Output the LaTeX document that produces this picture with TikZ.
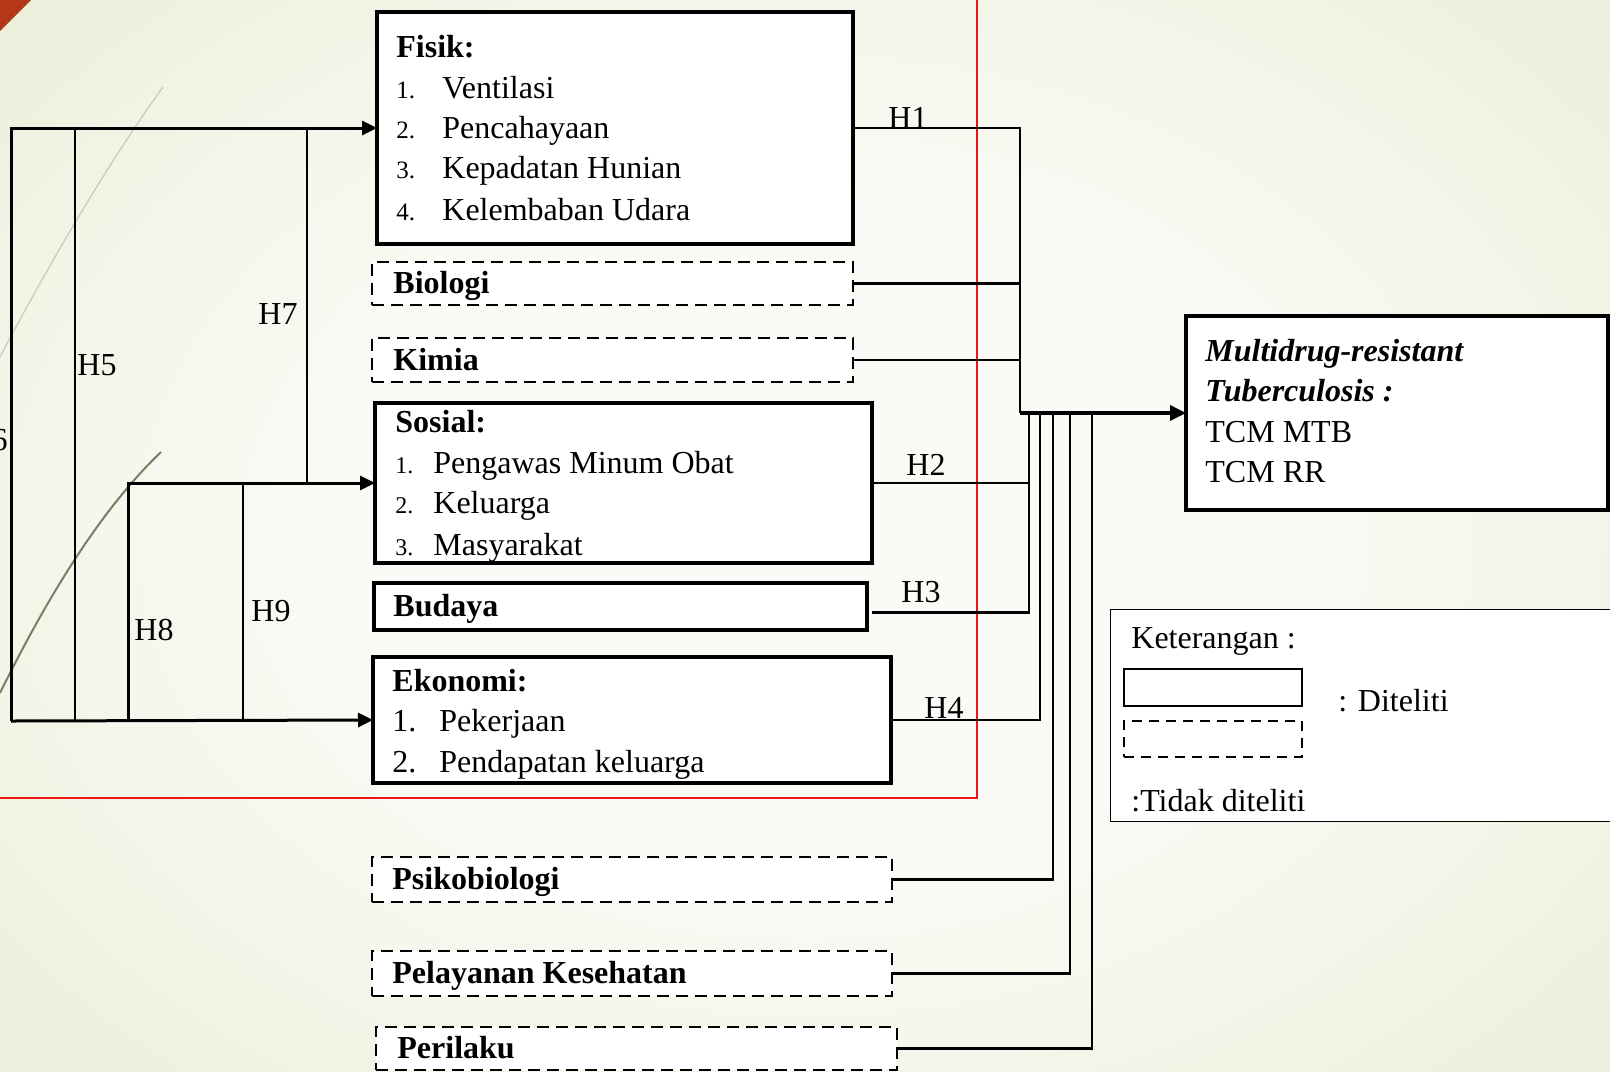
\documentclass[tikz,border=0pt]{standalone}
\usepackage{fontspec}
\setmainfont{Liberation Serif}
\usetikzlibrary{arrows.meta}
\definecolor{bgout}{RGB}{216,228,188}
\definecolor{bgin}{RGB}{250,251,246}
\definecolor{redline}{RGB}{240,20,20}
\definecolor{cornerred}{RGB}{180,55,25}
\definecolor{decolight}{RGB}{200,200,188}
\definecolor{decodark}{RGB}{130,122,100}
\pgfdeclareradialshading{bgshade}{\pgfpoint{0bp}{0bp}}{color(0bp)=(bgin); color(12bp)=(bgin); color(30bp)=(bgin!50!bgout); color(55bp)=(bgout)}
\begin{document}
\begin{tikzpicture}[x=0.5pt,y=-0.5pt,
  solidbox/.style={draw, line width=1.75pt, fill=white, inner sep=0pt, outer sep=0pt, anchor=north west},
  dashbox/.style={draw, line width=1.2pt, dash pattern=on 6pt off 3.5pt, fill=white, inner sep=0pt, outer sep=0pt, anchor=north west},
  conn/.style={line width=1.35pt},
  arr/.style={line width=1.5pt, -{Triangle[length=7.5pt,width=7pt]}},
  mainarr/.style={line width=1.75pt, -{Triangle[length=8pt,width=7.5pt]}},
  head/.style={font=\fontsize{16}{19}\selectfont\bfseries, inner sep=0pt, anchor=base west},
  itm/.style={font=\fontsize{16}{19}\selectfont, inner sep=0pt, anchor=base west},
  numf/.style={font=\fontsize{12.5}{15}\selectfont, inner sep=0pt, anchor=base west},
  nums/.style={font=\fontsize{12}{14}\selectfont, inner sep=0pt, anchor=base west},
  outt/.style={font=\fontsize{16}{19}\selectfont, inner sep=0pt, anchor=base west},
  legt/.style={font=\fontsize{16}{19}\selectfont, inner sep=0pt, anchor=base west},
  hl/.style={font=\fontsize{16}{19}\selectfont, inner sep=0pt}
]
\useasboundingbox (0,0) rectangle (1610,1071);
\clip (0,0) rectangle (1610,1071);
% background
\shade[shading=bgshade] (-150,-150) rectangle (1760,1221);
\fill[cornerred] (0,0) -- (31,0) -- (0,31) -- cycle;
\draw[decolight, line width=0.6pt] (0,357) .. controls (50,262) and (110,160) .. (163,87);
\draw[decodark, line width=1pt] (0,693) .. controls (40,612) and (95,515) .. (161,452);
% red frame
\draw[redline, line width=1pt] (-20,-20) rectangle (977,798);

% boxes
\node[solidbox, minimum width=238pt, minimum height=116pt] (fisik) at (377,12) {};
\node[dashbox, minimum width=240.5pt, minimum height=21.5pt] (biologi) at (372,262) {};
\node[dashbox, minimum width=240.5pt, minimum height=22pt] (kimia) at (372,338) {};
\node[solidbox, minimum width=248.5pt, minimum height=80pt] (sosial) at (375,403) {};
\node[solidbox, minimum width=246.5pt, minimum height=23.5pt] (budaya) at (374,583) {};
\node[solidbox, minimum width=259pt, minimum height=63pt] (ekonomi) at (373,657) {};
\node[dashbox, minimum width=260pt, minimum height=22.5pt] (psiko) at (372,857) {};
\node[dashbox, minimum width=260pt, minimum height=22.5pt] (pelayanan) at (372,951) {};
\node[dashbox, minimum width=260.5pt, minimum height=21.5pt] (perilaku) at (376,1027) {};
\node[solidbox, minimum width=211pt, minimum height=97pt] (outcome) at (1186,316) {};
\node[draw, line width=0.5pt, fill=white, inner sep=0pt, outer sep=0pt, anchor=north west, minimum width=270pt, minimum height=106pt] (legend) at (1110,609) {};
\node[draw, line width=1.1pt, fill=white, inner sep=0pt, outer sep=0pt, anchor=north west, minimum width=89pt, minimum height=18.5pt] (legsolid) at (1124,669) {};
\node[draw, line width=1.1pt, dash pattern=on 5pt off 3.5pt, fill=white, inner sep=0pt, outer sep=0pt, anchor=north west, minimum width=89pt, minimum height=18pt] (legdash) at (1124,721) {};

% texts
\node[head] (tfisik) at (396,57) {Fisik:};
\node[numf] (nf1) at (396,98) {1.};  \node[itm] (tf1) at (442,98) {Ventilasi};
\node[numf] (nf2) at (396,138) {2.}; \node[itm] (tf2) at (442,138) {Pencahayaan};
\node[numf] (nf3) at (396,178) {3.}; \node[itm] (tf3) at (442,178) {Kepadatan Hunian};
\node[numf] (nf4) at (396,220) {4.}; \node[itm] (tf4) at (442,220) {Kelembaban Udara};
\node[head] (tbio) at (393,293) {Biologi};
\node[head] (tkimia) at (393,370) {Kimia};
\node[head] (tsosial) at (395,432) {Sosial:};
\node[nums] (ns1) at (395,473) {1.}; \node[itm] (ts1) at (433,473) {Pengawas Minum Obat};
\node[nums] (ns2) at (395,513) {2.}; \node[itm] (ts2) at (433,513) {Keluarga};
\node[nums] (ns3) at (395,555) {3.}; \node[itm] (ts3) at (433,555) {Masyarakat};
\node[head] (tbudaya) at (393,616) {Budaya};
\node[head] (tekonomi) at (392,691) {Ekonomi:};
\node[itm] (ne1) at (392,731) {1.}; \node[itm] (te1) at (439,731) {Pekerjaan};
\node[itm] (ne2) at (392,772) {2.}; \node[itm] (te2) at (439,772) {Pendapatan keluarga};
\node[head] (tpsiko) at (392,889) {Psikobiologi};
\node[head] (tpel) at (392,983) {Pelayanan Kesehatan};
\node[head] (tperi) at (397,1058) {Perilaku};
\node[outt, font=\fontsize{16}{19}\selectfont\bfseries\itshape] (to1) at (1205,361) {Multidrug-resistant};
\node[outt, font=\fontsize{16}{19}\selectfont\bfseries\itshape] (to2) at (1205,401) {Tuberculosis :};
\node[outt] (to3) at (1205,442) {TCM MTB};
\node[outt] (to4) at (1205,482) {TCM RR};
\node[legt] (tket) at (1131,648) {Keterangan :};
\node[legt] (tdit) at (1338,711) {: Diteliti};
\node[legt] (ttdk) at (1131,811) {:Tidak diteliti};

% right connectors
\coordinate (j1) at (1020,413);
\coordinate (c2) at (1029,413);
\coordinate (c4) at (1040,413);
\coordinate (c5) at (1053,413);
\coordinate (c6) at (1070,413);
\coordinate (c7) at (1092,413);
\draw[conn] (fisik.east) -| (j1);
\draw[conn] (biologi.east) -- (biologi.east -| j1);
\draw[conn] (kimia.east) -- (kimia.east -| j1);
\draw[conn] (sosial.east) -| (c2);
\draw[conn] ([shift={(5,6)}]budaya.east) -| (c2);
\draw[conn] (ekonomi.east) -| (c4);
\draw[conn] (psiko.east) -| (c5);
\draw[conn] (pelayanan.east) -| (c6);
\draw[conn] (perilaku.east) -| (c7);
\draw[mainarr] (j1) -- (outcome.west);

% left connectors
\coordinate (a1) at (11,128);
\coordinate (a2) at (11,721);
\coordinate (h5t) at (75,128);
\coordinate (h5b) at (75,721);
\coordinate (h7t) at (307,128);
\coordinate (h7b) at (307,483);
\coordinate (h8t) at (128,483);
\coordinate (h8b) at (128,721);
\coordinate (h9t) at (243,483);
\coordinate (h9b) at (243,721);
\draw[arr] (a2) -- (a1) -- (fisik.west);
\draw[arr] (a2) -- (ekonomi.west);
\draw[conn] (h5t) -- (h5b);
\draw[conn] (h7t) -- (h7b);
\draw[arr] (h8b) -- (h8t) -- (sosial.west);
\draw[conn] (h9t) -- (h9b);

% hypothesis labels
\node[hl] (H1) at (908,118) {H1};
\node[hl] (H2) at (926,465) {H2};
\node[hl] (H3) at (921,592) {H3};
\node[hl] (H4) at (944,708) {H4};
\node[hl] (H5) at (97,365) {H5};
\node[hl, anchor=east] (H6) at (8,440) {H6};
\node[hl] (H7) at (278,314) {H7};
\node[hl] (H8) at (154,630) {H8};
\node[hl] (H9) at (271,611) {H9};
\end{tikzpicture}
\end{document}
